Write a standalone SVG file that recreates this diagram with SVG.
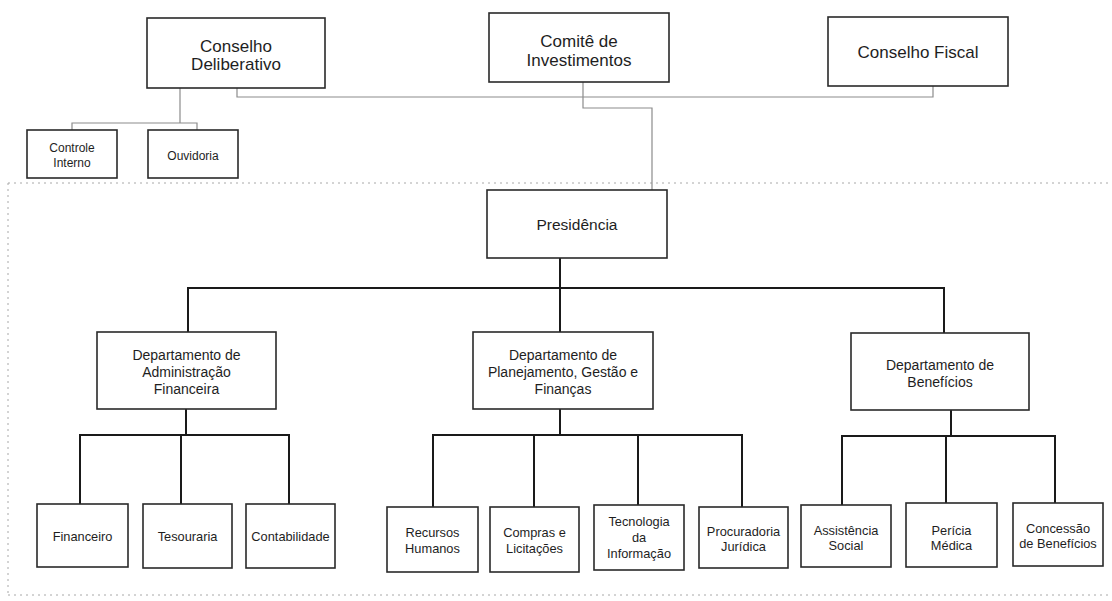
<svg xmlns="http://www.w3.org/2000/svg" width="1112" height="601" viewBox="0 0 1112 601">
<style>
.box{fill:#fff;stroke:#2a2a2a;stroke-width:1.6}
.t{font-family:"Liberation Sans",Arial,sans-serif;fill:#1e1e1e;text-anchor:middle}
.t17{font-size:17px}
.t16{font-size:15.5px}
.t14{font-size:14px}
.t13{font-size:12.8px}
.t12{font-size:12px}
.gray{fill:none;stroke:#8c8c8c;stroke-width:1.2}
.blk{fill:none;stroke:#1a1a1a;stroke-width:2}
.frame{fill:none;stroke:#a8a8a8;stroke-width:1;stroke-dasharray:2 4}
</style>
<rect x="0" y="0" width="1112" height="601" fill="#fff"/>
<path class="frame" d="M8 183 H1112 M8 183 V595 M8 595 H1112"/>

<g id="connectors">
<path class="gray" d="M180 88 V123 M72 130 V123 H197 V130"/>
<path class="gray" d="M237 88 V97 H933 V86"/>
<path class="gray" d="M583 82 V108 H652 V190"/>
<path class="blk" d="M560 258 V332 M188 332 V288 H944 V333"/>
<path class="blk" d="M186 409 V435 M80 504 V435 H289 V504 M181 435 V504"/>
<path class="blk" d="M560 409 V435 M433 507 V435 H742 V507 M534 435 V507 M638 435 V505"/>
<path class="blk" d="M951 410 V436 M842 505 V436 H1055 V503 M946 436 V503"/>
</g>

<g id="conselho-deliberativo">
<rect class="box" x="147" y="18" width="178" height="70"/>
<text class="t t17" x="236" y="51.5">Conselho</text>
<text class="t t17" x="236" y="70">Deliberativo</text>
</g>
<g id="comite-investimentos">
<rect class="box" x="489" y="13" width="180" height="69"/>
<text class="t t17" x="579" y="47">Comitê de</text>
<text class="t t17" x="579" y="66">Investimentos</text>
</g>
<g id="conselho-fiscal">
<rect class="box" x="828" y="17" width="180" height="69"/>
<text class="t t17" x="918" y="58">Conselho Fiscal</text>
</g>
<g id="controle-interno">
<rect class="box" x="27" y="130" width="90" height="48"/>
<text class="t t12" x="72" y="152">Controle</text>
<text class="t t12" x="72" y="167">Interno</text>
</g>
<g id="ouvidoria">
<rect class="box" x="148" y="130" width="90" height="48"/>
<text class="t t12" x="193" y="159.5">Ouvidoria</text>
</g>
<g id="presidencia">
<rect class="box" x="487" y="190" width="180" height="68"/>
<text class="t t16" x="577" y="230">Presidência</text>
</g>
<g id="dep-administracao">
<rect class="box" x="97" y="332" width="179" height="77"/>
<text class="t t14" x="186.5" y="360">Departamento de</text>
<text class="t t14" x="186.5" y="377">Administração</text>
<text class="t t14" x="186.5" y="393.5">Financeira</text>
</g>
<g id="dep-planejamento">
<rect class="box" x="473" y="332" width="180" height="77"/>
<text class="t t14" x="563" y="360">Departamento de</text>
<text class="t t14" x="563" y="377">Planejamento, Gestão e</text>
<text class="t t14" x="563" y="393.5">Finanças</text>
</g>
<g id="dep-beneficios">
<rect class="box" x="851" y="333" width="178" height="77"/>
<text class="t t14" x="940" y="369.5">Departamento de</text>
<text class="t t14" x="940" y="386.5">Benefícios</text>
</g>
<g id="financeiro">
<rect class="box" x="37" y="504" width="91" height="63"/>
<text class="t t13" x="82.5" y="541">Financeiro</text>
</g>
<g id="tesouraria">
<rect class="box" x="143" y="504" width="89" height="64"/>
<text class="t t13" x="187.5" y="541">Tesouraria</text>
</g>
<g id="contabilidade">
<rect class="box" x="246" y="504" width="89" height="64"/>
<text class="t t13" x="290.5" y="541">Contabilidade</text>
</g>
<g id="recursos-humanos">
<rect class="box" x="387" y="507" width="91" height="65"/>
<text class="t t13" x="432.5" y="537">Recursos</text>
<text class="t t13" x="432.5" y="553">Humanos</text>
</g>
<g id="compras-licitacoes">
<rect class="box" x="490" y="507" width="89" height="65"/>
<text class="t t13" x="534.5" y="537">Compras e</text>
<text class="t t13" x="534.5" y="553">Licitações</text>
</g>
<g id="tecnologia-informacao">
<rect class="box" x="594" y="505" width="90" height="65"/>
<text class="t t13" x="639" y="526">Tecnologia</text>
<text class="t t13" x="639" y="542">da</text>
<text class="t t13" x="639" y="558">Informação</text>
</g>
<g id="procuradoria-juridica">
<rect class="box" x="699" y="507" width="89" height="61"/>
<text class="t t13" x="743.5" y="536">Procuradoria</text>
<text class="t t13" x="743.5" y="551">Jurídica</text>
</g>
<g id="assistencia-social">
<rect class="box" x="801" y="505" width="90" height="62"/>
<text class="t t13" x="846" y="535">Assistência</text>
<text class="t t13" x="846" y="550">Social</text>
</g>
<g id="pericia-medica">
<rect class="box" x="906" y="503" width="91" height="64"/>
<text class="t t13" x="951.5" y="535">Perícia</text>
<text class="t t13" x="951.5" y="550">Médica</text>
</g>
<g id="concessao-beneficios">
<rect class="box" x="1013" y="503" width="90" height="63"/>
<text class="t t13" x="1058" y="533">Concessão</text>
<text class="t t13" x="1058" y="548">de Benefícios</text>
</g>
</svg>
